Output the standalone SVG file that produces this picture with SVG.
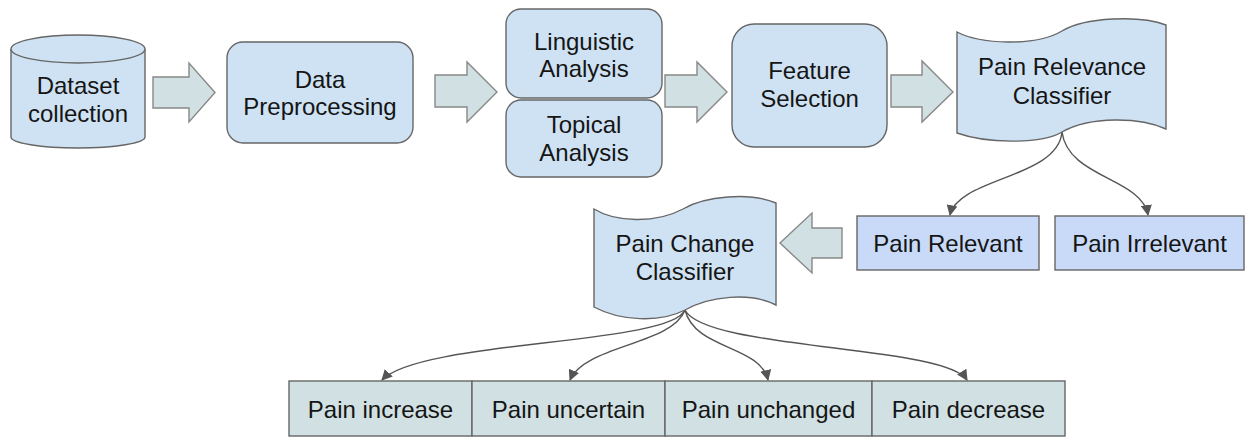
<svg xmlns="http://www.w3.org/2000/svg" width="1255" height="437" viewBox="0 0 1255 437">
<defs>
<style>
.n{fill:#cfe2f3;stroke:#666;stroke-width:1.4}
.r{fill:#c9daf8;stroke:#666;stroke-width:1.4}
.b{fill:#d0e0e3;stroke:#666;stroke-width:1.4}
.a{fill:#d0e0e3;stroke:#888;stroke-width:1.4}
.c{fill:none;stroke:#555;stroke-width:1.4;marker-end:url(#ah)}
text{font-family:"Liberation Sans",Arial,sans-serif;font-size:24px;fill:#151515;text-anchor:middle}
</style>
<marker id="ah" viewBox="0 0 10 10" refX="9" refY="5" markerWidth="11" markerHeight="11" markerUnits="userSpaceOnUse" orient="auto">
<path d="M0,0 L10,5 L0,10 Z" fill="#555"/>
</marker>
</defs>
<rect width="1255" height="437" fill="#fff"/>
<g id="connectors">
<polygon class="a" points="153,77 189,77 189,63 215,92.5 189,122 189,108 153,108"/>
<polygon class="a" points="435,75 467,75 467,62 497,92 467,122 467,107 435,107"/>
<polygon class="a" points="665,75 697,75 697,62 727,92 697,122 697,107 665,107"/>
<polygon class="a" points="891,75 922,75 922,61 953,92 922,122 922,107 891,107"/>
<polygon class="a" points="842,228 812,228 812,213 780,243 812,273 812,258 842,258"/>
<path class="c" d="M1062,132 C1058,178 958,178 950,215"/>
<path class="c" d="M1062,132 C1068,178 1142,178 1148,215"/>
<path class="c" d="M685,310 C670,345 420,340 382,380"/>
<path class="c" d="M685,310 C672,345 585,345 570,380"/>
<path class="c" d="M685,310 C695,350 760,345 768,380"/>
<path class="c" d="M685,310 C705,350 945,345 967,380"/>
</g>
<g id="dataset">
<path class="n" d="M11,49 L11,137 A67,11 0 0 0 145,137 L145,49"/>
<ellipse class="n" cx="78" cy="49" rx="67" ry="14"/>
<text x="78" y="94">Dataset</text>
<text x="78" y="122">collection</text>
</g>
<g id="preprocessing">
<rect class="n" x="227" y="42" width="186" height="101" rx="16"/>
<text x="320" y="88">Data</text>
<text x="320" y="115">Preprocessing</text>
</g>
<g id="linguistic">
<rect class="n" x="506" y="9" width="156" height="89" rx="15"/>
<text x="584" y="50">Linguistic</text>
<text x="584" y="77">Analysis</text>
</g>
<g id="topical">
<rect class="n" x="506" y="100" width="156" height="77" rx="15"/>
<text x="584" y="133">Topical</text>
<text x="584" y="161">Analysis</text>
</g>
<g id="feature">
<rect class="n" x="732" y="24" width="155" height="123" rx="22"/>
<text x="809.5" y="79">Feature</text>
<text x="809.5" y="107">Selection</text>
</g>
<g id="relevance-classifier">
<path class="n" d="M957,32 C980,44 1035,47 1062,31 C1085,17 1140,15 1166,25 L1166,129 C1140,117 1090,116 1062,132 C1040,145 985,143 957,133 Z"/>
<text x="1062" y="75">Pain Relevance</text>
<text x="1062" y="104">Classifier</text>
</g>
<g id="pain-relevant">
<rect class="r" x="857" y="216" width="182" height="54"/>
<text x="948" y="252">Pain Relevant</text>
</g>
<g id="pain-irrelevant">
<rect class="r" x="1055" y="216" width="189" height="54"/>
<text x="1149.5" y="252">Pain Irrelevant</text>
</g>
<g id="change-classifier">
<path class="n" d="M594,209 C615,222 655,224 683,209 C705,196 750,192 776,203 L776,305 C750,292 710,296 685,310 C660,323 620,321 594,307 Z"/>
<text x="685" y="252">Pain Change</text>
<text x="685" y="280">Classifier</text>
</g>
<g id="pain-increase">
<rect class="b" x="289" y="381" width="183" height="55"/>
<text x="380.5" y="418">Pain increase</text>
</g>
<g id="pain-uncertain">
<rect class="b" x="472" y="381" width="193" height="55"/>
<text x="568.5" y="418">Pain uncertain</text>
</g>
<g id="pain-unchanged">
<rect class="b" x="665" y="381" width="207" height="55"/>
<text x="768.5" y="418">Pain unchanged</text>
</g>
<g id="pain-decrease">
<rect class="b" x="872" y="381" width="193" height="55"/>
<text x="968.5" y="418">Pain decrease</text>
</g>
</svg>
